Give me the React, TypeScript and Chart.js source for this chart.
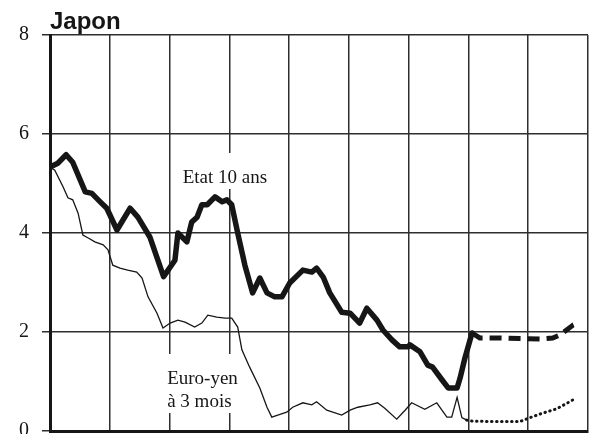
import React, { useEffect, useRef } from "react";
import { Chart, registerables } from "chart.js";

Chart.register(...registerables);

// x = years elapsed since the left edge of the chart (one grid column = one year)
const bondX = [0.0, 0.13, 0.27, 0.38, 0.59, 0.7, 0.84, 0.95, 1.12, 1.34, 1.47, 1.67, 1.9, 2.09, 2.14, 2.29, 2.37, 2.46, 2.54, 2.63, 2.76, 2.88, 2.96, 3.04, 3.14, 3.26, 3.39, 3.51, 3.63, 3.76, 3.88, 4.01, 4.23, 4.38, 4.46, 4.57, 4.68, 4.88, 5.02, 5.18, 5.3, 5.47, 5.57, 5.72, 5.85, 5.99, 6.02, 6.19, 6.32, 6.4, 6.56, 6.66, 6.81, 6.86, 6.94, 7.06];
const bondY = [5.33, 5.41, 5.58, 5.43, 4.83, 4.8, 4.63, 4.5, 4.06, 4.5, 4.32, 3.92, 3.12, 3.45, 4.0, 3.82, 4.22, 4.32, 4.57, 4.57, 4.73, 4.63, 4.67, 4.57, 4.0, 3.35, 2.79, 3.09, 2.79, 2.71, 2.71, 2.99, 3.25, 3.21, 3.29, 3.11, 2.79, 2.4, 2.38, 2.18, 2.48, 2.24, 2.04, 1.84, 1.7, 1.7, 1.74, 1.6, 1.33, 1.29, 1.03, 0.87, 0.87, 1.07, 1.47, 1.98];

const bondForecastX = [7.06, 7.19, 7.53, 7.86, 8.19, 8.41, 8.53, 8.75, 8.83];
const bondForecastY = [1.98, 1.88, 1.88, 1.87, 1.86, 1.88, 1.94, 2.14, 2.18];

const yenX = [0.0, 0.08, 0.22, 0.3, 0.38, 0.47, 0.55, 0.64, 0.75, 0.89, 0.97, 1.05, 1.17, 1.3, 1.45, 1.54, 1.64, 1.79, 1.89, 2.01, 2.14, 2.26, 2.42, 2.54, 2.64, 2.79, 2.93, 3.04, 3.14, 3.21, 3.34, 3.51, 3.63, 3.71, 3.81, 3.96, 4.06, 4.23, 4.38, 4.46, 4.63, 4.88, 5.02, 5.15, 5.35, 5.48, 5.6, 5.8, 5.94, 6.05, 6.27, 6.47, 6.64, 6.72, 6.81, 6.89, 6.97];
const yenY = [5.33, 5.27, 4.93, 4.71, 4.67, 4.4, 3.96, 3.9, 3.82, 3.76, 3.66, 3.35, 3.29, 3.25, 3.21, 3.09, 2.71, 2.38, 2.08, 2.18, 2.24, 2.2, 2.1, 2.18, 2.34, 2.3, 2.28, 2.28, 2.1, 1.64, 1.29, 0.87, 0.48, 0.28, 0.32, 0.38, 0.48, 0.57, 0.53, 0.59, 0.42, 0.32, 0.42, 0.48, 0.53, 0.57, 0.46, 0.24, 0.42, 0.57, 0.44, 0.57, 0.28, 0.28, 0.68, 0.27, 0.22];

const yenForecastX = [6.97, 7.06, 7.44, 7.86, 8.03, 8.24, 8.48, 8.75];
const yenForecastY = [0.22, 0.2, 0.19, 0.19, 0.27, 0.36, 0.45, 0.63];

const yearCount = 9;
const yTickValues = [0, 2, 4, 6, 8];

const chartTitle = "Japon";
const bondLabel = ["Etat 10 ans"];
const bondLabelAt = { x: 2.22, y: 5.01 };
const yenLabel = ["Euro-yen", "à 3 mois"];
const yenLabelAt = { x: 1.96, y: 0.95 };

const toPoints = (xs: number[], ys: number[]) => xs.map((x, i) => ({ x, y: ys[i] }));

const INK = "#161616";
const GRID = "#2e2e2e";
const SERIF = '"Liberation Serif", "DejaVu Serif", serif';

const labelPlugin = {
  id: "labels",
  beforeDatasetsDraw(chart: any) {
    const { ctx, scales } = chart;
    ctx.save();
    ctx.font = `19px ${SERIF}`;
    ctx.fillStyle = "#ffffff";
    const boxes = [
      { lines: bondLabel, at: bondLabelAt },
      { lines: yenLabel, at: yenLabelAt },
    ];
    for (const b of boxes) {
      const left = scales.x.getPixelForValue(b.at.x);
      const base = scales.y.getPixelForValue(b.at.y);
      const w = Math.max(...b.lines.map((l: string) => ctx.measureText(l).width));
      const h = 23 * (b.lines.length - 1);
      ctx.fillRect(left - 5, base - 30, w + 7, h + 36);
    }
    ctx.restore();
  },
  afterDatasetsDraw(chart: any) {
    const { ctx, scales } = chart;
    ctx.save();
    ctx.font = `19px ${SERIF}`;
    ctx.fillStyle = INK;
    ctx.textBaseline = "alphabetic";
    ctx.textAlign = "left";
    const boxes = [
      { lines: bondLabel, at: bondLabelAt },
      { lines: yenLabel, at: yenLabelAt },
    ];
    for (const b of boxes) {
      const left = scales.x.getPixelForValue(b.at.x);
      const base = scales.y.getPixelForValue(b.at.y);
      b.lines.forEach((l: string, i: number) => ctx.fillText(l, left, base + i * 23));
    }
    ctx.font = 'bold 24px "Liberation Sans", Arial, sans-serif';
    ctx.fillText(chartTitle, chart.chartArea.left, chart.chartArea.top - 6);
    ctx.restore();
  },
};

export default function App() {
  const ref = useRef<HTMLCanvasElement | null>(null);
  useEffect(() => {
    if (!ref.current) return;
    const chart = new Chart(ref.current, {
      type: "line",
      data: {
        datasets: [
          {
            label: "Etat 10 ans",
            data: toPoints(bondX, bondY),
            borderColor: INK,
            borderWidth: 5.5,
            borderJoinStyle: "round",
            borderCapStyle: "round",
            pointRadius: 0,
            tension: 0,
          },
          {
            label: "Etat 10 ans (prévision)",
            data: toPoints(bondForecastX, bondForecastY),
            borderColor: INK,
            borderWidth: 5,
            borderDash: [12, 7],
            borderCapStyle: "butt",
            pointRadius: 0,
            tension: 0,
          },
          {
            label: "Euro-yen à 3 mois",
            data: toPoints(yenX, yenY),
            borderColor: INK,
            borderWidth: 1.3,
            pointRadius: 0,
            tension: 0,
          },
          {
            label: "Euro-yen à 3 mois (prévision)",
            data: toPoints(yenForecastX, yenForecastY),
            borderColor: INK,
            borderWidth: 3,
            borderDash: [0.5, 4.5],
            borderCapStyle: "round",
            pointRadius: 0,
            tension: 0,
          },
        ],
      },
      options: {
        animation: false,
        responsive: false,
        layout: { padding: { top: 35, right: 2, bottom: 3, left: 0 } },
        plugins: { legend: { display: false }, tooltip: { enabled: false }, title: { display: false } },
        scales: {
          x: {
            type: "linear",
            min: 0,
            max: yearCount,
            ticks: { display: false, stepSize: 1 },
            grid: { color: GRID, lineWidth: 1.5, drawTicks: false },
            border: { display: true, color: INK, width: 3 },
            afterFit: (s: any) => {
              s.height = 0;
              s.paddingLeft = 0;
              s.paddingRight = 0;
              s.paddingTop = 0;
              s.paddingBottom = 0;
            },
          },
          y: {
            min: 0,
            max: 8,
            afterBuildTicks: (s: any) => {
              s.ticks = yTickValues.map((v) => ({ value: v }));
            },
            ticks: {
              color: INK,
              padding: 13,
              font: { family: SERIF, size: 20 },
            },
            grid: { color: GRID, lineWidth: 1.5, tickLength: 8, tickColor: GRID },
            border: { display: true, color: INK, width: 3 },
            afterFit: (s: any) => {
              s.width = 50;
              s.paddingTop = 0;
              s.paddingBottom = 0;
            },
          },
        },
      },
      plugins: [labelPlugin],
    } as any);
    return () => chart.destroy();
  }, []);
  return (
    <div style={{ position: "fixed", left: 0, top: 0, width: 590, height: 434, background: "#fff" }}>
      <canvas ref={ref} width={590} height={434} />
    </div>
  );
}
